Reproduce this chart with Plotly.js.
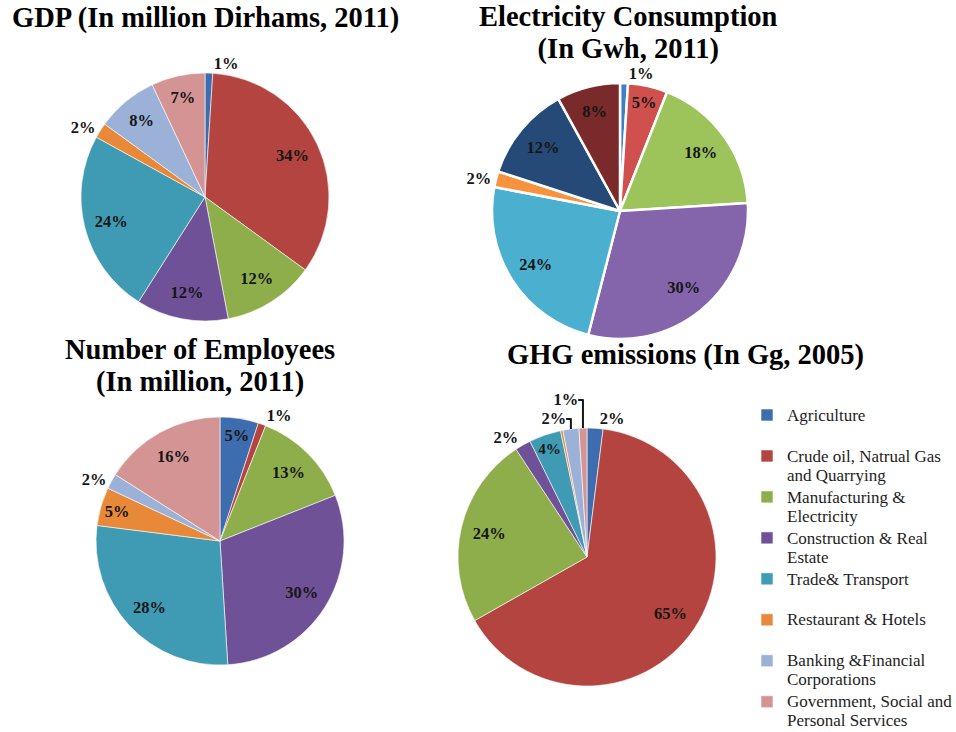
<!DOCTYPE html>
<html>
<head>
<meta charset="utf-8">
<script src="https://cdn.plot.ly/plotly-3.0.1.min.js"></script>
<style>html,body{margin:0;padding:0;background:#fff;}#chart{width:956px;height:732px;}</style>
</head>
<body>
<div id="chart"></div>
<script>
// ---- data ----
var sectors = ["Agriculture", "Crude oil, Natrual Gas<br>and Quarrying", "Manufacturing &<br>Electricity",
  "Construction & Real<br>Estate", "Trade& Transport", "Restaurant & Hotels",
  "Banking &Financial<br>Corporations", "Government, Social and<br>Personal Services"];
var elecExtra = ["Households", "Other uses"];
var gdpShare = [1, 34, 12, 12, 24, 2, 8, 7];
var elecShare = [1, 5, 18, 30, 24, 2, 12, 8];
var empShare = [5, 1, 13, 30, 28, 5, 2, 16];
var ghgShare = [2, 65, 24, 2, 4, 0.3, 2, 1];
var titles = ["GDP (In million Dirhams, 2011)", "Electricity Consumption<br>(In Gwh, 2011)",
  "Number of Employees<br>(In million, 2011)", "GHG emissions (In Gg, 2005)"];

// ---- styling ----
var W = 956, H = 732;
function dom(cx, cy, r) {
  return {x: [(cx - r) / W, (cx + r) / W], y: [1 - (cy + r) / H, 1 - (cy - r) / H]};
}
var colors = ["#3E6DAF", "#B3443F", "#8EAE4C", "#6E5196", "#3F9AB4", "#E8893A", "#9BB1D8", "#D49494"];
var elecColors = ["#3F7FC8", "#D0504D", "#9DC35B", "#8465AB", "#4BB0D0", "#F7923E", "#254A78", "#7A2A2A"];
var serif = "Liberation Serif, Times New Roman, serif";
var txtFont = {family: serif, size: 16.5, color: "#161616", weight: "bold"};

// text shown at a larger size than the line pitch of its container font (tighter line spacing)
function sized(s, px, pad) {
  var lines = s.split("<br>");
  if (pad && lines.length < 2) lines.push("&nbsp;");
  return lines.map(function (l) { return "<span style=\"font-size:" + px + "px\">" + l + "</span>"; }).join("<br>");
}
var legendLabels = sectors.map(function (s) { return sized(s, 17, true); });
var elecLabels = legendLabels.slice(0, 6).concat(elecExtra);

function pieTrace(labels, values, cols, d, lineW, show) {
  return {
    type: "pie", labels: labels, values: values, domain: d, sort: false, direction: "clockwise",
    marker: {colors: cols, line: {color: "#ffffff", width: lineW}},
    textinfo: "none", textposition: "none", showlegend: show, hoverinfo: "skip"
  };
}
// transparent ring carrying the percentage labels, so they sit near the rim like the reference
function labelTrace(labels, values, d, pos) {
  return {
    type: "pie", labels: labels, values: values, domain: d, sort: false, direction: "clockwise",
    hole: 0.56, marker: {colors: values.map(function () { return "rgba(0,0,0,0)"; }), line: {width: 0}},
    texttemplate: "%{percent:.0%}", textposition: pos, insidetextorientation: "horizontal",
    textfont: txtFont, insidetextfont: txtFont, outsidetextfont: txtFont,
    showlegend: false, hoverinfo: "skip"
  };
}

var dGdp = dom(205, 197, 124), dElec = dom(620, 211, 128), dEmp = dom(220, 541, 124), dGhg = dom(587, 557, 129);
var data = [
  pieTrace(legendLabels, gdpShare, colors, dGdp, 0.6, true),
  pieTrace(elecLabels, elecShare, elecColors, dElec, 2.5, false),
  pieTrace(legendLabels, empShare, colors, dEmp, 0.6, false),
  pieTrace(legendLabels, ghgShare, colors, dGhg, 0.6, false),
  labelTrace(legendLabels, gdpShare, dGdp,
    ["outside", "inside", "inside", "inside", "inside", "outside", "inside", "inside"]),
  labelTrace(elecLabels, elecShare, dElec,
    ["outside", "inside", "inside", "inside", "inside", "outside", "inside", "inside"]),
  labelTrace(legendLabels, empShare, dEmp,
    ["inside", "outside", "inside", "inside", "inside", "inside", "outside", "inside"]),
  labelTrace(legendLabels, ghgShare, dGhg,
    ["outside", "inside", "inside", "outside", "inside", "none", "outside", "outside"])
];

var titleFont = {family: serif, size: 24.6, color: "#000", weight: "bold"};
var titlePos = [[205, 18], [628, 33], [200, 366], [685, 355]];
var annotations = titles.map(function (t, i) {
  return {text: sized(t, 28.5, false), x: titlePos[i][0] / W, y: 1 - titlePos[i][1] / H,
    xref: "paper", yref: "paper", xanchor: "center", yanchor: "middle", showarrow: false, font: titleFont};
});

var layout = {
  width: W, height: H, margin: {l: 0, r: 0, t: 0, b: 0, autoexpand: false},
  paper_bgcolor: "#fff", plot_bgcolor: "#fff",
  annotations: annotations,
  legend: {x: 747 / W, y: 1 - 399 / H, xanchor: "left", yanchor: "top", valign: "top",
    font: {family: serif, size: 14.6, color: "#1e1e1e"}, bgcolor: "rgba(0,0,0,0)", tracegroupgap: 0,
    itemwidth: 30},
  showlegend: true
};

Plotly.newPlot("chart", data, layout, {displayModeBar: false, staticPlot: true});
</script>
</body>
</html>
